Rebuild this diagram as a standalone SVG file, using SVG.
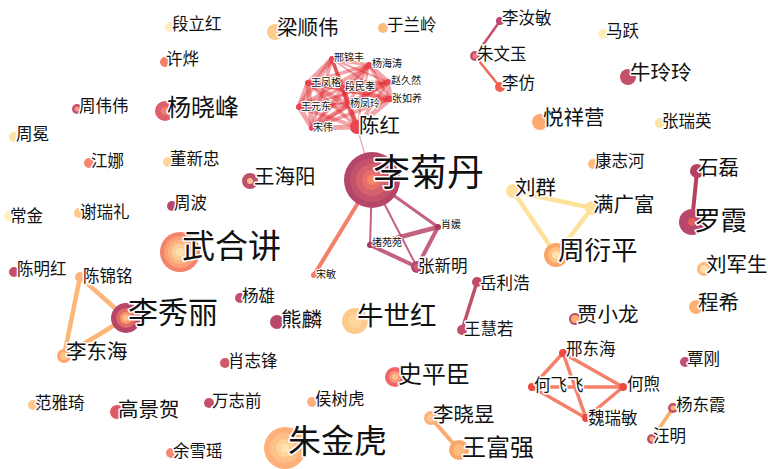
<svg xmlns="http://www.w3.org/2000/svg" width="768" height="469" viewBox="0 0 768 469">
<style>
text{font-family:"Noto Sans CJK SC","Noto Sans",sans-serif;fill:#111;stroke:#fff;stroke-width:3;stroke-linejoin:round;paint-order:stroke}
.s10{font-size:10px;stroke-width:2}
.s16{font-size:16.5px}
.s20{font-size:20.5px}
.s24{font-size:24px}
.s27{font-size:26.5px}
.s30{font-size:30px}
.s33{font-size:33px}
.s37{font-size:37px}
line{stroke-linecap:round}
.cl{stroke:#e0282f;stroke-opacity:.42}
.w1{stroke-width:2}.w2{stroke-width:3.5}.w3{stroke-width:5}
.rose{fill:#b8476b}.rosel{fill:#c4506c}.red{fill:#e8454f}.sal{fill:#f4806a}.ora{fill:#fcaa6e}.pea{fill:#fdcb8c}.yel{fill:#fee3a4}.pal{fill:#feeebb}
</style>
<g id="connectors">
<g>
<line class="cl w2" x1="332" y1="59" x2="369" y2="65"/>
<line class="cl w1" x1="332" y1="59" x2="388" y2="82"/>
<line class="cl w3" x1="332" y1="59" x2="308" y2="83"/>
<line class="cl w2" x1="332" y1="59" x2="343" y2="88"/>
<line class="cl w1" x1="332" y1="59" x2="390" y2="99"/>
<line class="cl w3" x1="332" y1="59" x2="299" y2="107"/>
<line class="cl w2" x1="332" y1="59" x2="348" y2="105"/>
<line class="cl w2" x1="332" y1="59" x2="312" y2="128"/>
<line class="cl w2" x1="332" y1="59" x2="357" y2="127"/>
<line class="cl w3" x1="369" y1="65" x2="388" y2="82"/>
<line class="cl w2" x1="369" y1="65" x2="308" y2="83"/>
<line class="cl w3" x1="369" y1="65" x2="343" y2="88"/>
<line class="cl w2" x1="369" y1="65" x2="390" y2="99"/>
<line class="cl w2" x1="369" y1="65" x2="299" y2="107"/>
<line class="cl w2" x1="369" y1="65" x2="348" y2="105"/>
<line class="cl w2" x1="369" y1="65" x2="312" y2="128"/>
<line class="cl w1" x1="369" y1="65" x2="357" y2="127"/>
<line class="cl w2" x1="388" y1="82" x2="308" y2="83"/>
<line class="cl w2" x1="388" y1="82" x2="343" y2="88"/>
<line class="cl w3" x1="388" y1="82" x2="390" y2="99"/>
<line class="cl w1" x1="388" y1="82" x2="299" y2="107"/>
<line class="cl w3" x1="388" y1="82" x2="348" y2="105"/>
<line class="cl w2" x1="388" y1="82" x2="312" y2="128"/>
<line class="cl w2" x1="388" y1="82" x2="357" y2="127"/>
<line class="cl w3" x1="308" y1="83" x2="343" y2="88"/>
<line class="cl w2" x1="308" y1="83" x2="390" y2="99"/>
<line class="cl w3" x1="308" y1="83" x2="299" y2="107"/>
<line class="cl w3" x1="308" y1="83" x2="348" y2="105"/>
<line class="cl w3" x1="308" y1="83" x2="312" y2="128"/>
<line class="cl w2" x1="308" y1="83" x2="357" y2="127"/>
<line class="cl w3" x1="343" y1="88" x2="390" y2="99"/>
<line class="cl w2" x1="343" y1="88" x2="299" y2="107"/>
<line class="cl w3" x1="343" y1="88" x2="348" y2="105"/>
<line class="cl w2" x1="343" y1="88" x2="312" y2="128"/>
<line class="cl w3" x1="343" y1="88" x2="357" y2="127"/>
<line class="cl w1" x1="390" y1="99" x2="299" y2="107"/>
<line class="cl w3" x1="390" y1="99" x2="348" y2="105"/>
<line class="cl w2" x1="390" y1="99" x2="312" y2="128"/>
<line class="cl w3" x1="390" y1="99" x2="357" y2="127"/>
<line class="cl w3" x1="299" y1="107" x2="348" y2="105"/>
<line class="cl w3" x1="299" y1="107" x2="312" y2="128"/>
<line class="cl w2" x1="299" y1="107" x2="357" y2="127"/>
<line class="cl w3" x1="348" y1="105" x2="312" y2="128"/>
<line class="cl w3" x1="348" y1="105" x2="357" y2="127"/>
<line class="cl w3" x1="312" y1="128" x2="357" y2="127"/>
</g>
<line x1="357" y1="127" x2="372" y2="180" stroke="#f4a0a0" stroke-width="1.2"/>
<g stroke="#b8476b" stroke-opacity="0.85">
<line x1="372" y1="180" x2="370" y2="245" stroke-width="2"/>
<line x1="372" y1="180" x2="417" y2="267" stroke-width="2"/>
<line x1="372" y1="180" x2="438" y2="227" stroke-width="3"/>
<line x1="370" y1="245" x2="438" y2="227" stroke-width="4.5"/>
<line x1="370" y1="245" x2="417" y2="267" stroke-width="4"/>
<line x1="438" y1="227" x2="417" y2="267" stroke-width="4"/>
</g>
<line x1="372" y1="180" x2="314" y2="275" stroke="#f4806a" stroke-width="4"/>
<line x1="500" y1="21" x2="475" y2="56" stroke="#c8506c" stroke-width="2.5"/>
<line x1="475" y1="56" x2="500" y2="87" stroke="#f06a5c" stroke-width="2.5"/>
<line x1="697" y1="171" x2="692" y2="222" stroke="#b8405f" stroke-width="4"/>
<g stroke="#fee19a" stroke-width="4.5">
<line x1="513" y1="191" x2="592" y2="208"/>
<line x1="513" y1="191" x2="556" y2="255"/>
<line x1="592" y1="208" x2="556" y2="255"/>
</g>
<g stroke="#fdb678" stroke-width="4.5">
<line x1="80" y1="277" x2="126" y2="318"/>
<line x1="80" y1="277" x2="64" y2="356"/>
<line x1="64" y1="356" x2="126" y2="318"/>
</g>
<g stroke="#f4806a" stroke-width="3.5">
<line x1="563" y1="353" x2="532" y2="387"/>
<line x1="563" y1="353" x2="623" y2="387"/>
<line x1="563" y1="353" x2="586" y2="418"/>
<line x1="532" y1="387" x2="623" y2="387"/>
<line x1="532" y1="387" x2="586" y2="418"/>
<line x1="623" y1="387" x2="586" y2="418"/>
</g>
<line x1="673" y1="408" x2="652" y2="439" stroke="#fdae6b" stroke-width="3.5"/>
<line x1="431" y1="418" x2="459" y2="450" stroke="#fcaa6e" stroke-width="4"/>
<line x1="477" y1="282" x2="462" y2="330" stroke="#c0506a" stroke-width="3.5"/>
</g>

<g id="n-duanlihong"><circle cx="170" cy="27" r="5" class="pal"/><text class="s16" x="172" y="30">段立红</text></g>
<g id="n-liangshunwei"><circle cx="275" cy="32" r="8" class="pea"/><text class="s20" x="277" y="35">梁顺伟</text></g>
<g id="n-yulanling"><circle cx="383" cy="28" r="5" fill="#fdbb7e"/><text class="s16" x="387" y="31">于兰岭</text></g>
<g id="n-xuye"><circle cx="165" cy="62" r="5" class="sal"/><text class="s16" x="166" y="65">许烨</text></g>
<g id="n-yangxiaofeng"><circle cx="165" cy="111" r="10" fill="#df5f6d"/><circle cx="165" cy="111" r="4" fill="#ee8070"/><text class="s24" x="167" y="116">杨晓峰</text></g>
<g id="n-zhouweiwei"><circle cx="77" cy="109" r="5" class="rosel"/><circle cx="77" cy="109" r="2.5" fill="#f49a80"/><text class="s16" x="79" y="112">周伟伟</text></g>
<g id="n-zhoumian"><circle cx="14" cy="137" r="5" class="yel"/><text class="s16" x="16" y="140">周冕</text></g>
<g id="n-jiangna"><circle cx="89" cy="163" r="5" fill="#f7876c"/><text class="s16" x="91" y="167">江娜</text></g>
<g id="n-dongxinzhong"><circle cx="168" cy="162" r="5" fill="#fdd49a"/><text class="s16" x="170" y="165">董新忠</text></g>
<g id="n-wanghaiyang"><circle cx="250" cy="181" r="8" fill="#c0506a"/><circle cx="250" cy="181" r="3" fill="#fdc090"/><text class="s20" x="254" y="184">王海阳</text></g>
<g id="n-zhoubo"><circle cx="172" cy="206" r="5" class="rose"/><text class="s16" x="174" y="209">周波</text></g>
<g id="n-changjin"><circle cx="9" cy="216" r="5" class="pal"/><text class="s16" x="10" y="222">常金</text></g>
<g id="n-xieruili"><circle cx="79" cy="213" r="5" fill="#fdc98a"/><text class="s16" x="80" y="218">谢瑞礼</text></g>
<g id="n-wuhejiang"><circle cx="180" cy="252" r="20" fill="#f4836c"/><circle cx="180" cy="252" r="16" fill="#f9a077"/><circle cx="180" cy="252" r="12" fill="#fcb884"/><circle cx="180" cy="252" r="8" fill="#fdcf98"/><circle cx="180" cy="252" r="4" fill="#fee3b0"/><text class="s33" x="182" y="258">武合讲</text></g>

<g id="n-xingjinfeng"><circle cx="332" cy="59" r="3" class="red"/><text class="s10" x="334" y="61">邢锦丰</text></g>
<g id="n-yanghaitao"><circle cx="369" cy="65" r="3" class="red"/><text class="s10" x="372" y="67">杨海涛</text></g>
<g id="n-zhaojiuran"><circle cx="388" cy="82" r="3" class="red"/><text class="s10" x="391" y="84">赵久然</text></g>
<g id="n-wangfengge"><circle cx="308" cy="83" r="3" class="red"/><text class="s10" x="311" y="86">王凤格</text></g>
<g id="n-duanminxiao"><circle cx="343" cy="88" r="3" class="red"/><text class="s10" x="345" y="90">段民孝</text></g>
<g id="n-zhangruyang"><circle cx="390" cy="99" r="3" class="red"/><text class="s10" x="392" y="102">张如养</text></g>
<g id="n-wangyuandong"><circle cx="299" cy="107" r="3" class="red"/><text class="s10" x="301" y="110">王元东</text></g>
<g id="n-yangfengling"><circle cx="348" cy="105" r="3" class="red"/><text class="s10" x="350" y="107">杨凤玲</text></g>
<g id="n-songwei"><circle cx="312" cy="128" r="3" class="red"/><text class="s10" x="313" y="131">宋伟</text></g>
<g id="n-chenhong"><circle cx="357" cy="127" r="7" class="red"/><text class="s20" x="359" y="133">陈红</text></g>

<g id="n-lijudan"><circle cx="372" cy="180" r="28" fill="#b5466a"/><circle cx="372" cy="180" r="22" fill="#c4526b"/><circle cx="372" cy="180" r="16" fill="#d6606c"/><circle cx="372" cy="180" r="10" fill="#e8706a"/><circle cx="372" cy="180" r="5" fill="#f4886a"/><text class="s37" x="373" y="186">李菊丹</text></g>
<g id="n-songmin"><circle cx="314" cy="275" r="3" fill="#f4806a"/><text class="s10" x="316" y="278">宋敏</text></g>
<g id="n-duyuanyuan"><circle cx="370" cy="245" r="3" fill="#a83a5e"/><text class="s10" x="372" y="246">堵苑苑</text></g>
<g id="n-xiaoyuan"><circle cx="438" cy="227" r="3" fill="#a83a5e"/><text class="s10" x="441" y="228">肖媛</text></g>
<g id="n-zhangxinming"><circle cx="417" cy="267" r="6" class="rose"/><circle cx="417" cy="267" r="3" fill="#d06070"/><text class="s16" x="418" y="272">张新明</text></g>

<g id="n-lirumin"><circle cx="500" cy="21" r="4" class="rose"/><text class="s16" x="502" y="24">李汝敏</text></g>
<g id="n-zhuwenyu"><circle cx="475" cy="56" r="5" fill="#c0506a"/><circle cx="475" cy="56" r="2.5" fill="#f08070"/><text class="s16" x="477" y="60">朱文玉</text></g>
<g id="n-lifang"><circle cx="500" cy="87" r="5" fill="#f0604e"/><text class="s16" x="502" y="89">李仿</text></g>
<g id="n-mayue"><circle cx="603" cy="34" r="5" class="pal"/><text class="s16" x="606" y="37">马跃</text></g>
<g id="n-niulingling"><circle cx="628" cy="77" r="8" class="rosel"/><text class="s20" x="630" y="80">牛玲玲</text></g>
<g id="n-yuexiangying"><circle cx="540" cy="122" r="8" fill="#fdaa70"/><text class="s20" x="543" y="125">悦祥营</text></g>
<g id="n-zhangruiying"><circle cx="660" cy="123" r="5" class="yel"/><text class="s16" x="662" y="127">张瑞英</text></g>
<g id="n-kangzhihe"><circle cx="593" cy="164" r="5" fill="#fdbc80"/><text class="s16" x="595" y="167">康志河</text></g>
<g id="n-shilei"><circle cx="697" cy="171" r="7" fill="#b8405f"/><text class="s20" x="698" y="175">石磊</text></g>
<g id="n-luoxia"><circle cx="692" cy="222" r="13" class="rose"/><circle cx="692" cy="222" r="4" fill="#e06060"/><text class="s27" x="694" y="230">罗霞</text></g>
<g id="n-liuqun"><circle cx="513" cy="191" r="7" fill="#fee19a"/><text class="s20" x="515" y="195">刘群</text></g>
<g id="n-manguangfu"><circle cx="592" cy="208" r="7" fill="#fee19a"/><text class="s20" x="593" y="212">满广富</text></g>
<g id="n-zhouyanping"><circle cx="556" cy="255" r="12" fill="#fca46a"/><circle cx="556" cy="255" r="8" fill="#fdc284"/><circle cx="556" cy="255" r="4" fill="#fee0a8"/><text class="s27" x="558" y="260">周衍平</text></g>
<g id="n-liujunsheng"><circle cx="704" cy="269" r="7" fill="#fdb97a"/><circle cx="704" cy="269" r="4" fill="#fee0b0"/><text class="s20" x="706" y="272">刘军生</text></g>
<g id="n-chengxi"><circle cx="696" cy="307" r="7" fill="#fdb070"/><text class="s20" x="698" y="310">程希</text></g>
<g id="n-jiaxiaolong"><circle cx="575" cy="319" r="6" class="rose"/><circle cx="575" cy="319" r="4" fill="#fdb070"/><text class="s20" x="577" y="322">贾小龙</text></g>
<g id="n-xingdonghai"><circle cx="563" cy="353" r="4" fill="#ee4a44"/><text class="s16" x="566" y="355">邢东海</text></g>
<g id="n-hefeifei"><circle cx="532" cy="387" r="4" fill="#ee4a44"/><text class="s16" x="534" y="391">何飞飞</text></g>
<g id="n-hexu"><circle cx="623" cy="387" r="4" fill="#ee4a44"/><text class="s16" x="627" y="390">何煦</text></g>
<g id="n-weiruimin"><circle cx="586" cy="418" r="4" fill="#ee4a44"/><text class="s16" x="588" y="424">魏瑞敏</text></g>
<g id="n-tangang"><circle cx="685" cy="362" r="5" class="rosel"/><text class="s16" x="687" y="365">覃刚</text></g>
<g id="n-yangdongxia"><circle cx="673" cy="408" r="5" fill="#c0506a"/><circle cx="673" cy="408" r="2.5" fill="#fdb070"/><text class="s16" x="676" y="411">杨东霞</text></g>
<g id="n-wangming"><circle cx="652" cy="439" r="5" fill="#c0506a"/><circle cx="652" cy="439" r="2.5" fill="#fdb070"/><text class="s16" x="653" y="442">汪明</text></g>

<g id="n-chenminghong"><circle cx="14" cy="272" r="5" class="rosel"/><text class="s16" x="17" y="275">陈明红</text></g>
<g id="n-chenjinming"><circle cx="80" cy="277" r="5" fill="#fdb678"/><text class="s16" x="83" y="282">陈锦铭</text></g>
<g id="n-lixiuli"><circle cx="126" cy="318" r="15" fill="#b5466a"/><circle cx="126" cy="318" r="10" fill="#e06a66"/><circle cx="126" cy="318" r="6" fill="#f89a6a"/><circle cx="126" cy="318" r="3" fill="#fdc088"/><text class="s30" x="128" y="323">李秀丽</text></g>
<g id="n-lidonghai"><circle cx="64" cy="356" r="7" fill="#fca46a"/><circle cx="64" cy="356" r="4" fill="#fdc488"/><text class="s20" x="66" y="359">李东海</text></g>
<g id="n-yangxiong"><circle cx="240" cy="298" r="5" class="rosel"/><text class="s16" x="242" y="302">杨雄</text></g>
<g id="n-xionglin"><circle cx="277" cy="322" r="7" class="rose"/><text class="s20" x="281" y="327">熊麟</text></g>
<g id="n-xiaozhifeng"><circle cx="225" cy="363" r="5" fill="#d05a6a"/><text class="s16" x="228" y="367">肖志锋</text></g>
<g id="n-fanyaqi"><circle cx="33" cy="405" r="5" fill="#fdc88a"/><text class="s16" x="35" y="409">范雅琦</text></g>
<g id="n-gaojinghe"><circle cx="117" cy="412" r="7" fill="#e05a66"/><text class="s20" x="118" y="417">高景贺</text></g>
<g id="n-wanzhiqian"><circle cx="209" cy="403" r="5" class="rosel"/><text class="s16" x="212" y="407">万志前</text></g>
<g id="n-yuxueyao"><circle cx="171" cy="453" r="5" fill="#f48a70"/><text class="s16" x="173" y="457">余雪瑶</text></g>
<g id="n-zhujinhu"><circle cx="285" cy="448" r="21" fill="#fdb078"/><circle cx="285" cy="448" r="15" fill="#fdc088"/><circle cx="285" cy="448" r="9" fill="#fed49c"/><circle cx="285" cy="448" r="4" fill="#fee4b4"/><text class="s33" x="288" y="453">朱金虎</text></g>
<g id="n-niushihong"><circle cx="355" cy="321" r="13" fill="#fdca8c"/><circle cx="355" cy="321" r="7" fill="#fed59c"/><text class="s27" x="357" y="325">牛世红</text></g>
<g id="n-shipingchen"><circle cx="395" cy="377" r="10" fill="#f0646a"/><circle cx="395" cy="377" r="6" fill="#f89a78"/><circle cx="395" cy="377" r="3" fill="#fdc090"/><text class="s24" x="398" y="383">史平臣</text></g>
<g id="n-houshuhu"><circle cx="312" cy="402" r="5" fill="#fdb07a"/><text class="s16" x="315" y="405">侯树虎</text></g>
<g id="n-lixiaoyu"><circle cx="431" cy="418" r="7" fill="#fdb07a"/><circle cx="431" cy="418" r="4" fill="#fdc890"/><text class="s20" x="433" y="422">李晓昱</text></g>
<g id="n-wangfuqiang"><circle cx="459" cy="450" r="10" fill="#fca46a"/><circle cx="459" cy="450" r="6" fill="#fdbc80"/><text class="s24" x="462" y="456">王富强</text></g>
<g id="n-yuelihao"><circle cx="477" cy="282" r="5" fill="#c04868"/><text class="s16" x="480" y="289">岳利浩</text></g>
<g id="n-wanghuiruo"><circle cx="462" cy="330" r="5" class="rosel"/><text class="s16" x="464" y="335">王慧若</text></g>
</svg>
